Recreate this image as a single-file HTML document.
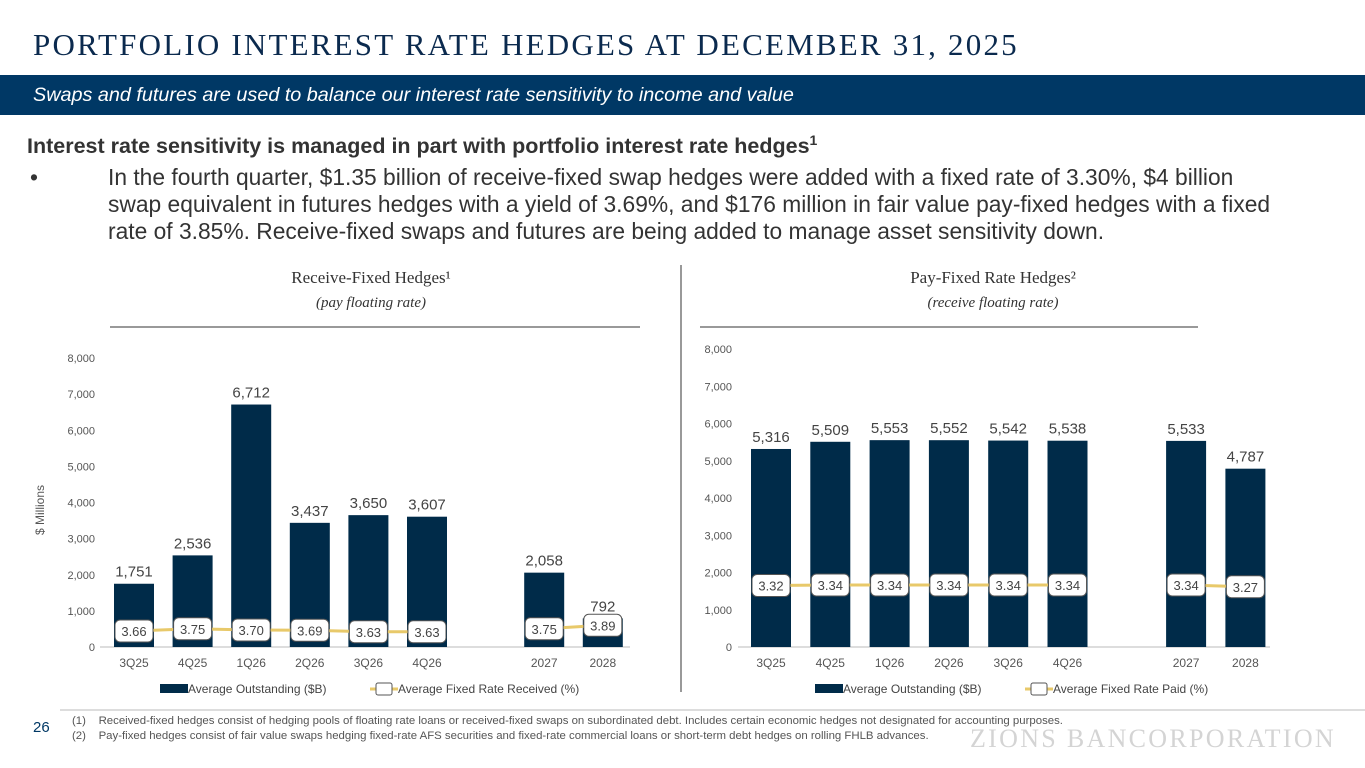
<!DOCTYPE html>
<html><head><meta charset="utf-8"><style>
body{margin:0;width:1365px;height:768px;overflow:hidden;background:#fff;font-family:"Liberation Sans",sans-serif;position:relative}
.a{position:absolute;white-space:nowrap}
</style></head><body>
<div class="a" style="left:33px;top:27px;font-family:'Liberation Serif',serif;font-size:31px;color:#0b2a4e;letter-spacing:2.2px">PORTFOLIO INTEREST RATE HEDGES AT DECEMBER 31, 2025</div>
<div class="a" style="left:0;top:75px;width:1365px;height:40px;background:#003865"></div>
<div class="a" style="left:33px;top:84px;font-size:19.8px;font-style:italic;color:#fff">Swaps and futures are used to balance our interest rate sensitivity to income and value</div>
<div class="a" style="left:27px;top:132px;font-size:21.5px;font-weight:bold;color:#333">Interest rate sensitivity is managed in part with portfolio interest rate hedges<sup style="font-size:14px">1</sup></div>
<div class="a" style="left:108px;top:164px;font-size:22.8px;color:#333;line-height:27px">
<span style="position:absolute;left:-78px">•</span>In the fourth quarter, $1.35 billion of receive-fixed swap hedges were added with a fixed rate of 3.30%, $4 billion<br>swap equivalent in futures hedges with a yield of 3.69%, and $176 million in fair value pay-fixed hedges with a fixed<br>rate of 3.85%. Receive-fixed swaps and futures are being added to manage asset sensitivity down.</div>
<svg class="a" style="left:0;top:0" width="1365" height="768" id="svg"></svg>
<div class="a" style="left:33px;top:719px;font-size:15px;color:#003865">26</div>
<div class="a" style="left:72px;top:714px;font-size:11.4px;color:#555;line-height:15px">(1)&nbsp;&nbsp;&nbsp; Received-fixed hedges consist of hedging pools of floating rate loans or received-fixed swaps on subordinated debt. Includes certain economic hedges not designated for accounting purposes.<br>(2)&nbsp;&nbsp;&nbsp; Pay-fixed hedges consist of fair value swaps hedging fixed-rate AFS securities and fixed-rate commercial loans or short-term debt hedges on rolling FHLB advances.</div>
<div class="a" style="left:970px;top:724px;font-family:'Liberation Serif',serif;font-size:26px;color:#d4d4d4;letter-spacing:2.3px">ZIONS BANCORPORATION</div>
<script>
const categories=["3Q25","4Q25","1Q26","2Q26","3Q26","4Q26","2027","2028"];
const slots=[0,1,2,3,4,5,7,8];
const recvOutstanding=[1751,2536,6712,3437,3650,3607,2058,792];
const recvRate=[3.66,3.75,3.70,3.69,3.63,3.63,3.75,3.89];
const payOutstanding=[5316,5509,5553,5552,5542,5538,5533,4787];
const payRate=[3.32,3.34,3.34,3.34,3.34,3.34,3.34,3.27];
const yTicks=[0,1000,2000,3000,4000,5000,6000,7000,8000];
const svg=document.getElementById('svg');const NS='http://www.w3.org/2000/svg';
function el(t,a,txt){const e=document.createElementNS(NS,t);for(const k in a)e.setAttribute(k,a[k]);if(txt!=null)e.textContent=txt;svg.appendChild(e);return e;}
const fmt=v=>v.toLocaleString('en-US');
function chart(o){
 const y=v=>o.y0-v*(o.y0-o.y8)/8000;
 const x=i=>o.x0+slots[i]*o.step;
 const ry=r=>o.ry0-(r-o.rbase)*o.rk;
 yTicks.forEach(t=>{const e=el('text',{x:o.ax,y:y(t)+4,'text-anchor':'end','font-size':11,fill:'#555'},fmt(t));
 });
 const ax=el('line',{x1:o.lx,x2:o.rx,y1:o.y0,y2:o.y0,stroke:'#bbb'});
 
 categories.forEach((c,i)=>{
  const v=o.out[i];
  const b=el('rect',{x:x(i)-20,y:y(v),width:40,height:o.y0-y(v),fill:'#002b49'});
  
  const l=el('text',{x:x(i),y:y(v)-7,'text-anchor':'middle','font-size':15,fill:'#444'},fmt(v));
  
  const t=el('text',{x:x(i),y:o.y0+20,'text-anchor':'middle','font-size':12,fill:'#555'},c);
  
 });
 for(const seg of [[0,5],[6,7]]){let d='';for(let i=seg[0];i<=seg[1];i++)d+=(i==seg[0]?'M':'L')+x(i)+','+ry(o.rate[i]);
  const p=el('path',{d:d,stroke:'#e8c96a','stroke-width':3,fill:'none'});}
 categories.forEach((c,i)=>{const cy=ry(o.rate[i]);
  const r=el('rect',{x:x(i)-19,y:cy-11,width:38,height:22,rx:5,fill:'#fff',stroke:'#555','stroke-width':1});
  
  const t=el('text',{x:x(i),y:cy+5,'text-anchor':'middle','font-size':13,fill:'#444'},o.rate[i].toFixed(2));
  });
 const lg=el('rect',{x:o.lgx,y:684,width:28,height:9,fill:'#002b49'});
 const lt=el('text',{x:o.lgx+28,y:693,'font-size':12,fill:'#444'},'Average Outstanding ($B)');
 const ll=el('line',{x1:o.lgx+210,x2:o.lgx+238,y1:689,y2:689,stroke:'#e8c96a','stroke-width':3});
 const lb=el('rect',{x:o.lgx+216,y:683,width:16,height:12,rx:2,fill:'#fff',stroke:'#555'});
 const lt2=el('text',{x:o.lgx+238,y:693,'font-size':12,fill:'#444'},o.rateLabel);
}
chart({y0:647,y8:358,x0:134,step:58.6,ax:95,lx:100,rx:630,out:recvOutstanding,rate:recvRate,ry0:631,rbase:3.66,rk:25,lgx:160,rateLabel:'Average Fixed Rate Received (%)'});
chart({y0:647,y8:349,x0:771,step:59.3,ax:732,lx:738,rx:1270,out:payOutstanding,rate:payRate,ry0:585,rbase:3.34,rk:25,lgx:815,rateLabel:'Average Fixed Rate Paid (%)'});
const yt=el('text',{x:44,y:510,'font-size':12,fill:'#555','text-anchor':'middle',transform:'rotate(-90 44 510)'},'$ Millions');

[[371,'Receive-Fixed Hedges¹','(pay floating rate)',110,640],[993,'Pay-Fixed Rate Hedges²','(receive floating rate)',700,1198]].forEach(h=>{
 const a=el('text',{x:h[0],y:283,'text-anchor':'middle','font-size':17,fill:'#333','font-family':'Liberation Serif, serif'},h[1]);
 const b=el('text',{x:h[0],y:307,'text-anchor':'middle','font-size':15,'font-style':'italic',fill:'#333','font-family':'Liberation Serif, serif'},h[2]);
 const l=el('line',{x1:h[3],x2:h[4],y1:327,y2:327,stroke:'#333'});
});
const v=el('line',{x1:681,x2:681,y1:265,y2:692,stroke:'#333'});
const f=el('line',{x1:60,x2:1365,y1:710,y2:710,stroke:'#bbb'});
</script>
</body></html>
